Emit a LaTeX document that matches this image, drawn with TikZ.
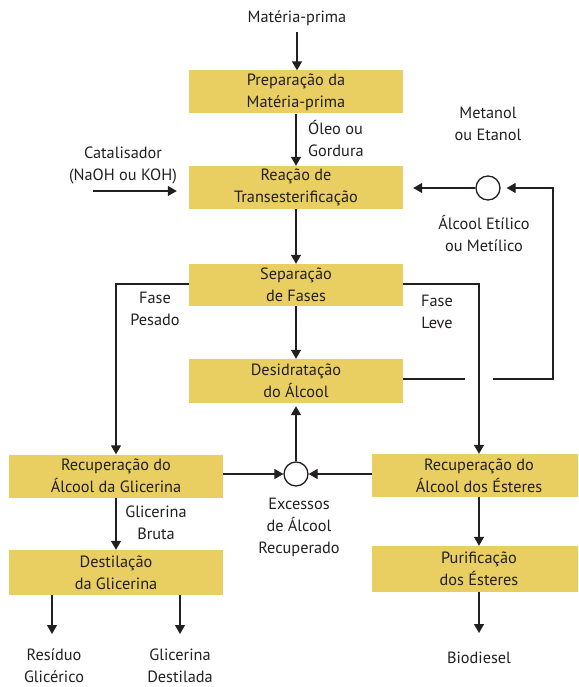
\documentclass[tikz,border=0pt]{standalone}
\usepackage{fontspec}
\setmainfont{PT Sans}
\usetikzlibrary{arrows.meta}
\definecolor{boxc}{RGB}{233,207,98}
\definecolor{ink}{RGB}{35,31,32}
\begin{document}
\begin{tikzpicture}[x=1pt,y=-1pt,
  every node/.style={text=ink, font=\fontsize{16.3}{22}\selectfont, inner sep=0pt, align=center},
  box/.style={fill=boxc, minimum width=214pt, minimum height=43pt},
  ln/.style={draw=ink, line width=1.3pt},
  arr/.style={ln, -{Triangle[length=9pt,width=10pt]}},
  circ/.style={circle, draw=ink, line width=1.3pt, minimum size=24pt, fill=white}]
\useasboundingbox (0,0) rectangle (578,687);
\clip (0,0) rectangle (578,687);
% boxes
\node[box] (prep) at (296,92) {Preparação da\\Matéria-prima};
\node[box] (reac) at (296,187.5) {Reação de\\Transesterificação};
\node[box, minimum height=42pt] (sep) at (296,285) {Separação\\de Fases};
\node[box, minimum height=44pt] (desi) at (296,381) {Desidratação\\do Álcool};
\node[box] (recg) at (116,476) {Recuperação do\\Álcool da Glicerina};
\node[box] (rece) at (479,475.5) {Recuperação do\\Álcool dos Ésteres};
\node[box, minimum height=45pt] (dest) at (116,572.5) {Destilação\\da Glicerina};
\node[box, minimum height=46pt] (puri) at (479,569) {Purificação\\dos Ésteres};
% circles
\node[circ] (c1) at (488,188) {};
\node[circ] (c2) at (296,474) {};
% labels
\node (mp) at (297,18) {Matéria-prima};
\node[anchor=west, align=left] (oleo) at (308,139) {Óleo ou\\Gordura};
\node (cat) at (123,165) {Catalisador\\(NaOH ou KOH)};
\node (met) at (488,124) {Metanol\\ou Etanol};
\node (alc) at (484,234) {Álcool Etílico\\ou Metílico};
\node (fpl) at (155,309) {Fase\\Pesado};
\node (fll) at (437,312) {Fase\\Leve};
\node (exc) at (299,527) {Excessos\\de Álcool\\Recuperado};
\node (gb) at (156,523) {Glicerina\\Bruta};
\node (res) at (54,666) {Resíduo\\Glicérico};
\node (gd) at (180,666) {Glicerina\\Destilada};
\node (bio) at (479,658) {Biodiesel};
% coordinates
\coordinate (mpa) at (297,32);
\coordinate (cats) at (93,191);
\coordinate (p1) at (465,379);
\coordinate (p2) at (493,379);
\coordinate (p3) at (553,379);
\coordinate (p4) at (553,188);
\coordinate (fp) at (116,284);
\coordinate (fl) at (479,284);
\coordinate (r1) at (52,634);
\coordinate (r2) at (180,634);
\coordinate (bioa) at (479,633);
% connectors
\draw[arr] (mpa) -- (mpa |- prep.north);
\draw[arr] (prep) -- (reac);
\draw[arr, shorten >=12pt] (cats) -- (cats -| reac.west);
\draw[arr, shorten >=10pt] (c1) -- (c1 -| reac.east);
\draw[ln] (p1 -| desi.east) -- (p1);
\draw[arr, shorten >=6pt] (p2) -- (p3) -- (p4) -- (c1);
\draw[arr] (reac) -- (sep);
\draw[arr] (sep) -- (desi);
\draw[arr] (fp -| sep.west) -- (fp) -- (recg);
\draw[arr] (fl -| sep.east) -- (fl) -- (rece);
\draw[arr, shorten >=3pt] (c2) -- (c2 |- desi.south);
\draw[arr] (c2 -| recg.east) -- (c2);
\draw[arr] (c2 -| rece.west) -- (c2);
\draw[arr] (recg) -- (dest);
\draw[arr] (r1 |- dest.south) -- (r1);
\draw[arr] (r2 |- dest.south) -- (r2);
\draw[arr] (rece) -- (puri);
\draw[arr] (puri) -- (bioa);
\end{tikzpicture}
\end{document}
